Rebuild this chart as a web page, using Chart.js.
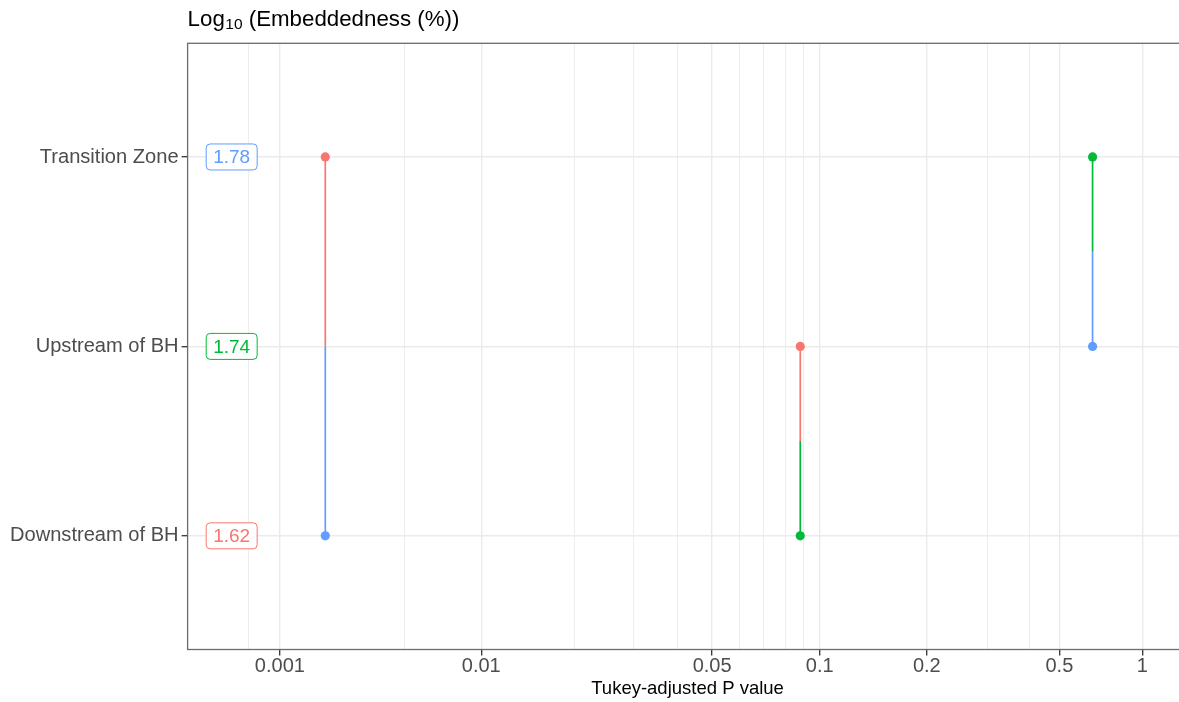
<!DOCTYPE html>
<html>
<head>
<meta charset="utf-8">
<script src="https://cdn.jsdelivr.net/npm/chart.js@4.4.1/dist/chart.umd.min.js"></script>
<style>
  html, body { margin: 0; padding: 0; background: #ffffff; overflow: hidden; }
  #wrap { position: relative; width: 1200px; height: 702px; }
  canvas { display: block; }
</style>
</head>
<body>
<div id="wrap"><canvas id="chart" width="1200" height="702"></canvas></div>
<script>
// Sites along the reach, bottom to top (y = 1, 2, 3)
const sites = ['Downstream of BH', 'Upstream of BH', 'Transition Zone'];
// Log10 embeddedness (%) per site
const embeddedness = [1.62, 1.74, 1.78];

// Pairwise Tukey comparisons
const pairUpper = ['Transition Zone', 'Upstream of BH', 'Transition Zone'];
const pairLower = ['Downstream of BH', 'Downstream of BH', 'Upstream of BH'];
const pairP = [0.0018, 0.088, 0.66];

// P-axis breaks
const majorBreaks = [0.001, 0.01, 0.05, 0.1, 0.2, 0.5, 1];
const majorLabels = ['0.001', '0.01', '0.05', '0.1', '0.2', '0.5', '1'];
const minorBreaks = [0.0005, 0.005, 0.02, 0.03, 0.04, 0.06, 0.07, 0.08, 0.09, 0.3, 0.4];

// Relative spacing of the P axis (0.001 -> 0, 1 -> 1), interpolated in log10 P
const warpP = [0.0005, 0.001, 0.005, 0.01, 0.02, 0.03, 0.04, 0.05, 0.06, 0.07, 0.08, 0.09, 0.1, 0.2, 0.3, 0.4, 0.5, 1];
const warpU = [-0.0369, 0, 0.1442, 0.2335, 0.3422, 0.4102, 0.4606, 0.5012, 0.5329, 0.5610, 0.5862, 0.6075, 0.6260, 0.7502, 0.8211, 0.8691, 0.9039, 1];

// Axis range and where the value labels sit
const pMin = 0.000134;
const pMax = 1.46;
const labelP = 0.00035;

const siteColors = {
  'Downstream of BH': '#F8766D',
  'Upstream of BH': '#00BA38',
  'Transition Zone': '#619CFF'
};

const FONT = '"Liberation Sans", Arial, "DejaVu Sans", sans-serif';

const warpL = warpP.map(p => Math.log10(p));
function warp(p) {
  const L = Math.log10(p);
  let i = 0;
  while (i < warpL.length - 2 && L > warpL[i + 1]) i++;
  const f = (L - warpL[i]) / (warpL[i + 1] - warpL[i]);
  return warpU[i] + f * (warpU[i + 1] - warpU[i]);
}
function unwarp(u) {
  let i = 0;
  while (i < warpU.length - 2 && u > warpU[i + 1]) i++;
  const f = (u - warpU[i]) / (warpU[i + 1] - warpU[i]);
  return Math.pow(10, warpL[i] + f * (warpL[i + 1] - warpL[i]));
}

// Log-like P scale with a non-uniform spacing
class WarpedPScale extends Chart.Scale {
  determineDataLimits() {
    this.min = this.options.min;
    this.max = this.options.max;
  }
  buildTicks() {
    return majorBreaks.concat(minorBreaks).sort((a, b) => a - b).map(v => ({ value: v }));
  }
  configure() {
    super.configure();
    this._u0 = warp(this.min);
    this._u1 = warp(this.max);
  }
  getLabelForValue(v) { return String(v); }
  getPixelForValue(v) {
    return this.getPixelForDecimal((warp(v) - this._u0) / (this._u1 - this._u0));
  }
  getValueForPixel(px) {
    return unwarp(this._u0 + this.getDecimalForPixel(px) * (this._u1 - this._u0));
  }
}
WarpedPScale.id = 'warpedP';
WarpedPScale.defaults = {};
Chart.register(WarpedPScale);

const isMajor = v => majorBreaks.indexOf(v) >= 0;
const siteY = name => sites.indexOf(name) + 1;

// Each comparison: a vertical segment split at its midpoint; each end takes
// the colour of the site it is compared against
const datasets = [];
pairP.forEach((p, i) => {
  const yTop = siteY(pairUpper[i]);
  const yBot = siteY(pairLower[i]);
  const yMid = (yTop + yBot) / 2;
  const topColor = siteColors[pairLower[i]];
  const botColor = siteColors[pairUpper[i]];
  datasets.push({
    data: [{ x: p, y: yTop }, { x: p, y: yMid }],
    borderColor: topColor, backgroundColor: topColor,
    pointRadius: [4.6, 0], pointBorderWidth: 0, borderWidth: 1.7, showLine: true
  });
  datasets.push({
    data: [{ x: p, y: yBot }, { x: p, y: yMid }],
    borderColor: botColor, backgroundColor: botColor,
    pointRadius: [4.6, 0], pointBorderWidth: 0, borderWidth: 1.7, showLine: true
  });
});

// Panel frame, site value labels and the title with subscript
const decorations = {
  id: 'decorations',
  beforeDatasetsDraw(chart) {
    const { ctx, chartArea: a } = chart;
    ctx.save();
    ctx.strokeStyle = '#6b6b6b';
    ctx.lineWidth = 1.3;
    ctx.strokeRect(a.left, a.top, a.right - a.left, a.bottom - a.top);
    ctx.restore();
  },
  afterDatasetsDraw(chart) {
    const { ctx, scales: { x, y } } = chart;
    ctx.save();
    ctx.font = '19px ' + FONT;
    ctx.textAlign = 'center';
    ctx.textBaseline = 'middle';
    embeddedness.forEach((val, i) => {
      const name = sites[i];
      const col = siteColors[name];
      const cx = x.getPixelForValue(labelP);
      const cy = y.getPixelForValue(i + 1);
      const text = val.toFixed(2);
      const w = ctx.measureText(text).width + 14;
      const h = 26;
      ctx.beginPath();
      ctx.roundRect(cx - w / 2, cy - h / 2, w, h, 4);
      ctx.fillStyle = '#ffffff';
      ctx.fill();
      ctx.lineWidth = 1;
      ctx.strokeStyle = col;
      ctx.stroke();
      ctx.fillStyle = col;
      ctx.fillText(text, cx, cy + 1);
    });
    ctx.restore();
  },
  afterDraw(chart) {
    const { ctx, chartArea: a } = chart;
    ctx.save();
    ctx.fillStyle = '#000000';
    ctx.textAlign = 'left';
    ctx.textBaseline = 'alphabetic';
    let xPos = a.left;
    const base = 25.5;
    ctx.font = '22.3px ' + FONT;
    ctx.fillText('Log', xPos, base);
    xPos += ctx.measureText('Log').width + 0.5;
    ctx.font = '15.5px ' + FONT;
    ctx.fillText('10', xPos, base + 3.5);
    xPos += ctx.measureText('10').width;
    ctx.font = '22.3px ' + FONT;
    ctx.fillText(' (Embeddedness (%))', xPos, base);
    ctx.restore();
  }
};

new Chart(document.getElementById('chart'), {
  type: 'scatter',
  data: { datasets },
  plugins: [decorations],
  options: {
    responsive: false,
    animation: false,
    events: [],
    layout: { padding: { top: 43.3, right: 12.5, bottom: 0, left: 0 } },
    plugins: { legend: { display: false }, tooltip: { enabled: false }, title: { display: false } },
    scales: {
      x: {
        type: 'warpedP',
        min: pMin,
        max: pMax,
        afterFit: s => { s.height = 52.5; },
        ticks: {
          callback: v => { const k = majorBreaks.indexOf(v); return k >= 0 ? majorLabels[k] : ''; },
          font: { family: FONT, size: 20, lineHeight: 1 },
          color: '#4D4D4D',
          padding: 1,
          autoSkip: false,
          maxRotation: 0
        },
        grid: {
          color: '#EBEBEB',
          lineWidth: c => (c.tick && isMajor(c.tick.value)) ? 1.4 : 0.9,
          tickColor: c => (c.tick && isMajor(c.tick.value)) ? '#333333' : 'rgba(0,0,0,0)',
          tickLength: 6,
          tickWidth: 1.3
        },
        border: { display: false },
        title: {
          display: true,
          text: 'Tukey-adjusted P value',
          color: '#000000',
          font: { family: FONT, size: 18.5, lineHeight: 1.2 },
          padding: { top: 0, bottom: 2 }
        }
      },
      y: {
        type: 'linear',
        min: 0.4,
        max: 3.6,
        afterBuildTicks: s => { s.ticks = [1, 2, 3].map(v => ({ value: v })); },
        afterFit: s => { s.width = 187.6; },
        ticks: {
          callback: v => sites[v - 1],
          font: { family: FONT, size: 20.1 },
          color: '#4D4D4D',
          padding: 3,
          autoSkip: false
        },
        grid: {
          color: '#EBEBEB',
          lineWidth: 1.4,
          tickColor: '#333333',
          tickLength: 6,
          tickWidth: 1.3
        },
        border: { display: false }
      }
    }
  }
});
</script>
</body>
</html>
